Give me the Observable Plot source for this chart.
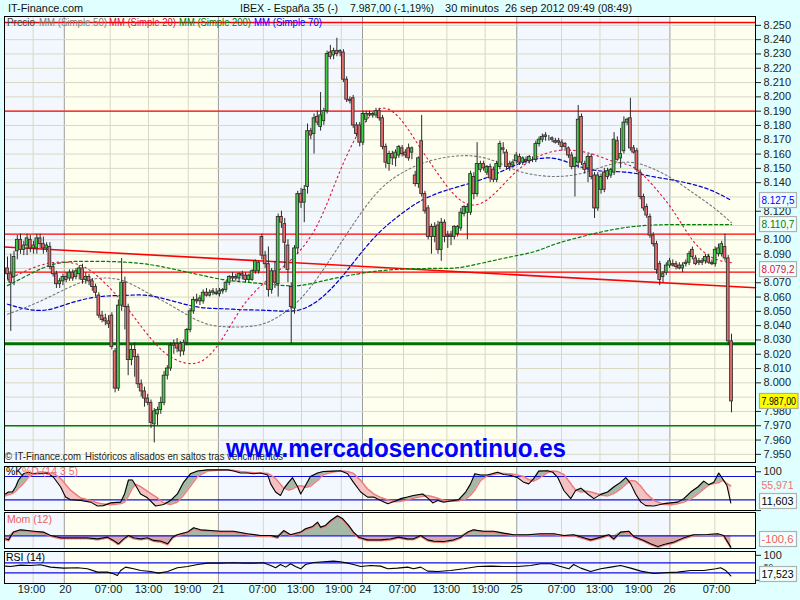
<!DOCTYPE html>
<html><head><meta charset="utf-8">
<script src="https://cdn.jsdelivr.net/npm/d3@7"></script>
<script src="https://cdn.jsdelivr.net/npm/@observablehq/plot@0.6"></script>
<style>
html,body{margin:0;padding:0;background:#E0FFFF;}
#wrap{position:relative;width:800px;height:600px;background:#E0FFFF;overflow:hidden;font-family:"Liberation Sans",Arial,sans-serif;}
#wrap svg.plot{position:absolute;left:0;}
#overlay{position:absolute;left:0;top:0;pointer-events:none;}
</style></head><body><div id="wrap"></div>
<script>
// ================= DATA =================
// 30-minute candles, IBEX 35, 19-26 Sep 2012: [open, high, low, close]
const ohlc = [
[8080,8088,8072,8076],[8076,8090,8036,8070],[8074,8092,8068,8088],[8092,8103,8086,8100],[8100,8104,8090,8093],
[8093,8099,8089,8096],[8096,8104,8089,8101],[8100,8103,8091,8094],[8094,8099,8090,8096],[8094,8104,8090,8101],
[8101,8104,8094,8097],[8097,8102,8090,8094],[8094,8098,8091,8096],[8095,8098,8079,8081],[8081,8084,8074,8076],
[8076,8078,8066,8069],[8069,8073,8066,8071],[8071,8076,8068,8074],[8074,8077,8070,8072],[8073,8079,8071,8077],
[8077,8079,8071,8073],[8074,8080,8072,8078],[8076,8082,8072,8080],[8080,8083,8069,8072],[8072,8077,8069,8074],
[8074,8076,8068,8071],[8071,8073,8064,8067],[8067,8069,8060,8063],[8061,8063,8045,8047],[8047,8050,8042,8044],
[8045,8048,8040,8043],[8043,8047,8038,8041],[8047,8049,8023,8025],[8022,8024,7993,7996],[7996,8058,7994,8054],
[8054,8087,8050,8070],[8070,8074,8037,8053],[8053,8055,8005,8016],[8016,8027,8012,8023],[8023,8028,8004,8018],
[8018,8020,7996,7999],[7999,8002,7990,7994],[7994,7997,7983,7989],[7989,7992,7984,7986],[7986,7988,7968,7972],
[7971,7982,7958,7980],[7978,7983,7970,7981],[7981,7990,7978,7986],[7986,8008,7984,8005],[8005,8012,8002,8010],
[8010,8028,8008,8026],[8026,8030,8020,8027],[8027,8031,8021,8024],[8027,8029,8018,8022],[8022,8030,8019,8028],
[8028,8038,8026,8037],[8037,8052,8035,8050],[8050,8060,8048,8058],[8058,8062,8055,8057],[8057,8061,8054,8059],
[8057,8065,8055,8063],[8063,8066,8060,8061],[8061,8065,8060,8063],[8063,8066,8061,8064],[8063,8066,8061,8062],
[8062,8066,8060,8064],[8064,8066,8062,8065],[8065,8071,8063,8070],[8070,8075,8068,8074],[8074,8077,8071,8073],
[8074,8076,8071,8073],[8073,8077,8070,8076],[8076,8078,8072,8075],[8075,8077,8070,8072],[8072,8076,8070,8075],
[8072,8079,8071,8078],[8078,8086,8076,8085],[8078,8085,8076,8084],[8102,8104,8086,8089],[8089,8092,8080,8083],
[8083,8095,8060,8065],[8065,8080,8062,8078],[8078,8085,8066,8070],[8069,8118,8060,8116],[8116,8120,8108,8112],
[8111,8115,8080,8098],[8096,8100,8070,8079],[8067,8070,8027,8053],[8052,8096,8048,8094],[8094,8134,8090,8132],
[8132,8136,8122,8126],[8126,8138,8112,8135],[8137,8181,8132,8176],[8176,8178,8170,8173],[8174,8188,8160,8185],
[8186,8190,8180,8182],[8179,8203,8176,8187],[8183,8192,8180,8190],[8190,8232,8188,8230],[8231,8236,8226,8228],
[8229,8234,8226,8232],[8232,8241,8228,8230],[8231,8233,8228,8232],[8231,8233,8210,8212],[8212,8214,8196,8198],
[8198,8200,8195,8197],[8199,8201,8178,8180],[8180,8182,8172,8174],[8180,8182,8165,8168],[8168,8190,8166,8188],
[8184,8190,8182,8188],[8188,8190,8186,8187],[8187,8189,8185,8188],[8187,8192,8185,8190],[8190,8192,8183,8185],
[8185,8187,8163,8165],[8165,8167,8150,8154],[8153,8162,8148,8160],[8160,8162,8152,8157],[8157,8163,8151,8161],
[8159,8166,8157,8165],[8164,8166,8158,8160],[8161,8163,8157,8159],[8164,8167,8155,8157],[8161,8165,8156,8164],
[8145,8148,8137,8139],[8139,8158,8136,8157],[8169,8187,8130,8132],[8132,8134,8118,8120],[8122,8124,8100,8102],
[8109,8111,8090,8102],[8102,8112,8098,8109],[8110,8113,8090,8093],[8093,8115,8085,8112],[8112,8114,8098,8102],
[8103,8106,8094,8102],[8102,8106,8096,8103],[8102,8110,8100,8109],[8104,8110,8102,8109],[8108,8122,8106,8119],
[8118,8124,8116,8123],[8119,8125,8100,8123],[8119,8148,8117,8146],[8144,8147,8128,8132],[8132,8168,8130,8153],
[8149,8155,8147,8153],[8153,8155,8148,8150],[8147,8152,8145,8151],[8151,8153,8140,8143],[8149,8151,8140,8142],
[8142,8155,8140,8153],[8151,8169,8149,8167],[8164,8168,8160,8163],[8161,8163,8149,8151],[8153,8155,8148,8151],
[8152,8156,8150,8154],[8155,8161,8153,8159],[8158,8160,8152,8154],[8154,8158,8152,8157],[8156,8158,8153,8155],
[8155,8159,8153,8158],[8156,8158,8154,8156],[8156,8169,8154,8167],[8167,8172,8165,8170],[8170,8174,8168,8172],
[8172,8175,8169,8173],[8171,8173,8169,8171],[8171,8172,8168,8170],[8169,8171,8167,8168],[8169,8171,8166,8168],
[8168,8170,8162,8165],[8167,8168,8163,8165],[8164,8165,8157,8159],[8159,8161,8149,8151],[8151,8158,8130,8157],
[8154,8194,8150,8184],[8186,8188,8152,8154],[8153,8155,8146,8149],[8150,8160,8140,8158],[8158,8160,8142,8144],
[8145,8147,8115,8122],[8122,8147,8120,8145],[8135,8146,8132,8144],[8147,8150,8133,8135],[8144,8150,8142,8148],
[8145,8150,8143,8149],[8147,8175,8145,8170],[8169,8172,8155,8156],[8157,8178,8150,8160],[8162,8186,8160,8182],
[8182,8185,8180,8184],[8185,8199,8162,8164],[8164,8166,8160,8161],[8162,8164,8147,8149],[8147,8149,8128,8130],
[8130,8132,8120,8122],[8123,8125,8115,8117],[8116,8118,8101,8103],[8103,8105,8095,8097],[8097,8099,8076,8079],
[8083,8085,8068,8072],[8074,8078,8070,8076],[8077,8084,8075,8082],[8082,8087,8080,8085],[8083,8086,8081,8082],
[8083,8085,8079,8081],[8082,8084,8079,8080],[8080,8084,8077,8082],[8083,8086,8081,8084],[8084,8092,8082,8090],
[8093,8095,8086,8088],[8087,8089,8082,8083],[8084,8087,8082,8085],[8085,8087,8082,8084],[8085,8090,8083,8088],
[8088,8090,8083,8084],[8084,8086,8082,8083],[8083,8095,8081,8093],[8090,8097,8088,8094],[8090,8099,8088,8097],
[8095,8104,8085,8087],[8087,8089,8026,8029],[8029,8034,7979,7987]
];

// Moving averages sampled every 6 candles (candle index positions)
const maIdx = [0,6,12,18,24,30,36,42,48,54,60,66,72,78,84,90,96,102,108,114,120,126,132,138,144,150,156,162,168,174,180,186,192,198,204,210,216,222];
const ma20  = [8072,8079,8084,8085,8082,8070,8055,8036,8020,8013,8013,8030,8055,8069,8080,8092,8112,8150,8178,8196,8188,8166,8146,8127,8122,8133,8149,8158,8163,8163,8160,8154,8153,8138,8122,8098,8086,8084];
const ma50  = [8048,8053,8059,8066,8072,8074,8072,8064,8057,8049,8041,8039,8039,8040,8047,8058,8076,8097,8118,8136,8146,8153,8157,8159,8159,8155,8148,8145,8144,8145,8149,8154,8155,8150,8143,8133,8124,8112];
const ma70  = [8055,8051,8050,8055,8059,8061,8061,8062,8059,8055,8052,8052,8051,8051,8050,8050,8058,8072,8090,8106,8117,8127,8133,8137,8141,8146,8153,8157,8158,8152,8148,8148,8147,8144,8142,8139,8135,8127.5];
const ma200 = [8068,8075,8082,8085,8085,8085,8084.5,8083.5,8081,8078,8075,8072,8070.5,8069.5,8068,8067.5,8071,8074,8076.5,8078.5,8079.5,8080,8080,8080,8083,8086,8089,8091.5,8097.5,8101,8104.5,8107.5,8109.5,8110.5,8110.7,8110.7,8110.7,8110.7];

// Horizontal drawn levels and trend line
const redLevels = [8252, 8190, 8104, 8077.5];
const greenThick = [8027.3];
const greenThin = [7970];
const trendX = [-0.92, 229.36];
const trendY = [8095, 8066.5];

// Last-value labels
const lastMA70 = 8127.5, lastMA200 = 8110.7, lastMA20 = 8079.2, lastPrice = 7987.00;

// Price axis
const priceGrid = [8250,8240,8230,8220,8210,8200,8190,8180,8170,8160,8150,8140,8130,8120,8110,8100,8090,8080,8070,8060,8050,8040,8030,8020,8010,8000,7990,7980,7970,7960,7950];
const priceTicks = [8250,8240,8230,8220,8210,8200,8190,8180,8170,8160,8150,8140,8120,8100,8090,8070,8060,8050,8040,8030,8020,8010,8000,7980,7970,7960,7950];

// Time axis (candle index positions): grid lines and label centres
const tickPos = [7.85,17.42,31.49,43.23,55.44,64.67,78.44,90.15,102.35,108.85,121.42,134.73,146.47,156.16,169.87,181.67,193.42,203.11,216.88];
const labelPos = [7.36,17.78,30.97,43.23,55.19,64.70,78.19,89.84,101.6,109.7,121.1,134.6,146.6,156.1,169.9,181.5,193.5,203.0,217.4];
const tickLabel = ["19:00","20","07:00","13:00","19:00","21","07:00","13:00","19:00","24","07:00","13:00","19:00","25","07:00","13:00","19:00","26","07:00"];

// Stochastic %K %D (14 3 5)
const stochIdx = [-0.6,0.3,1.5,2.5,3.4,4.9,6.4,8.0,10.1,12.3,14.1,16.3,17.8,19.3,22.4,25.5,27.6,29.4,31.6,34.7,35.9,37.1,38.3,39.3,40.8,42.9,45.4,47.9,50.0,52.1,54.0,56.1,58.3,61.3,64.4,67.5,69.3,71.5,73.6,75.5,77.6,79.8,80.7,82.2,83.7,84.7,86.2,87.4,89.0,89.9,91.4,92.9,95.1,96.9,100.0,102.1,104.3,106.1,108.3,110.4,112.3,114.4,116.6,119.0,120.6,122.7,124.5,127.3,128.8,130.4,131.9,133.7,135.9,138.3,140.5,142.0,143.3,145.1,147.2,150.3,152.1,154.3,156.4,158.3,159.8,161.3,162.9,165.6,167.2,168.7,170.6,172.7,174.2,175.8,177.9,179.8,181.9,184.0,185.9,188.0,189.6,191.1,192.6,194.2,195.7,198.2,201.2,203.4,205.5,207.4,209.5,211.7,213.5,215.0,216.6,218.1,219.3,220.6,221.8];
const stochK = [35,40,40,53,71,87,91,87,87,89,78,53,27,20,18,14,4,5,12,14,35,71,71,57,35,25,4,8,18,35,65,87,94,97,97,97,94,89,89,87,89,84,61,40,31,48,65,77,53,35,57,80,89,93,94,95,87,65,40,27,27,18,10,17,23,27,31,35,25,12,18,14,17,20,40,61,87,84,84,91,85,83,77,65,61,74,94,95,91,78,44,23,44,50,35,23,34,40,53,65,77,61,35,14,5,4,10,12,14,23,40,53,68,59,65,89,74,57,11.603];
const stochD = [30,33,36,42,50,62,78,86,92,90,88,75,60,45,25,18,12,9,7,10,14,30,50,60,54,42,28,12,8,14,32,55,80,94,96,97,96,93,91,90,89,88,84,75,60,50,45,48,55,56,52,55,70,85,92,94,93,88,70,48,35,26,20,15,16,20,24,29,31,28,24,19,16,17,22,32,45,70,82,87,88,87,84,80,72,68,75,90,94,93,85,62,45,40,42,38,32,30,36,48,60,70,68,55,38,18,8,7,10,14,22,35,48,58,62,64,70,62,55.971];
const stochLevels = [80, 20];

// Momentum (12)
const momIdx = [-0.6,0.3,1.8,4.0,6.1,8.0,11.0,13.2,16.3,20.2,24.5,27.6,30.7,32.5,34.0,35.6,37.1,38.7,40.8,42.9,44.8,46.9,49.1,50.6,52.1,55.2,57.1,59.2,62.3,65.3,69.3,73.6,77.6,80.7,82.8,84.7,86.8,89.9,91.4,93.6,95.1,96.0,97.5,99.1,101.2,102.8,104.6,106.1,107.7,110.4,114.4,117.5,119.9,122.7,124.5,126.7,128.8,130.7,133.7,136.8,139.0,141.1,142.9,146.0,149.1,152.1,155.2,159.5,163.5,167.5,170.6,173.6,176.7,178.8,181.9,184.4,185.9,188.0,190.5,192.0,195.1,197.2,199.4,201.2,204.3,207.4,210.4,214.7,217.8,219.6,221.8];
const momVal = [-27,-36,33,53,47,41,33,3,-18,-18,-18,-27,-12,-41,-71,-27,3,-18,-27,-18,-41,-47,-71,-12,9,33,71,53,47,41,41,18,3,3,-12,47,9,33,62,83,121,77,92,136,178,151,92,33,-12,-36,-36,-27,-12,-27,-27,3,-36,-47,-50,-36,-12,33,53,41,41,24,9,9,18,18,3,9,-18,-36,-12,9,-27,33,41,-6,-41,-71,-95,-77,-56,-18,9,12,18,3,-100.6];

// RSI (14)
const rsiIdx = [-0.6,0.9,4.0,7.1,10.1,13.2,17.2,21.5,24.5,27.6,30.7,32.5,33.7,34.7,36.2,38.7,40.8,43.9,46.3,49.1,52.1,55.2,58.3,61.3,65.3,69.3,72.4,75.5,78.5,80.7,82.2,83.7,85.3,86.8,88.3,89.9,91.4,93.9,96.9,100.0,102.1,104.3,106.1,108.3,111.3,114.4,116.6,119.6,122.7,124.5,126.7,128.8,131.9,135.9,139.9,144.2,148.2,152.1,156.4,160.4,163.5,166.6,169.6,172.1,173.6,175.8,178.8,181.9,185.0,188.0,191.1,194.2,198.2,202.5,205.5,209.5,213.5,217.2,218.7,220.2,221.8];
const rsiVal = [56.7,55.3,60.7,59.3,62,52.7,48.7,50,46,32.7,32.7,26,19.3,39.3,52.7,46,39.3,35.3,28.7,35.3,50,55.3,63.3,68.7,68.7,70,68.7,68.7,70,59.3,50,63.3,52.7,66,55.3,46,63.3,71.3,74,76.7,74,68.7,63.3,55.3,59.3,56.7,46,48.7,52.7,46,52.7,36.7,35.3,39.3,46,55.3,56.7,55.3,55.3,59.3,66,66,55.3,46,63.3,48.7,35.3,46,52.7,59.3,48.7,36.7,27.3,31.3,32.7,39.3,39.3,46,50,39.3,17.523];
const rsiLevels = [70, 30];

// ================= CHART =================
const X0 = -0.92, X1 = 229.36;
const W = 800, ML = 4, MR = 45;
const BG_A = "#F3F8FF", BG_B = "#FFFFF0";
const GRID = "#D8D8C4", DAYGRID = "#9C9C9C";
const FONT = "'Liberation Sans', Arial, sans-serif";
const fmtPrice = v => d3.format(",")(v).replace(/,/g, ".");

const ticks = tickPos.map((p, j) => ({p, lp: labelPos[j], label: tickLabel[j], day: tickLabel[j].length <= 2}));
const dayEdges = [X0, ...ticks.filter(t => t.day).map(t => t.p), X1];
const bands = d3.pairs(dayEdges).map(([a, b], j) => ({x1: a, x2: b, fill: j % 2 === 0 ? BG_A : BG_B}));

const candles = ohlc.map((d, i) => ({i, o: d[0], h: d[1], l: d[2], c: d[3]}));
const maSeries = arr => maIdx.map((x, j) => ({x, y: arr[j]}));
const trend = trendX.map((x, j) => ({x, y: trendY[j]}));
const st = stochIdx.map((x, j) => ({x, k: stochK[j], d: stochD[j]}));
const mom = momIdx.map((x, j) => ({x, v: momVal[j]}));
const rsi = rsiIdx.map((x, j) => ({x, v: rsiVal[j]}));

function base() {
  return [
    Plot.rect(bands, {x1: "x1", x2: "x2", fill: "fill"}),
    Plot.ruleX(ticks, {x: "p", stroke: d => d.day ? DAYGRID : GRID, strokeWidth: 1})
  ];
}
const common = {
  width: W, marginLeft: ML, marginRight: MR,
  x: {domain: [X0, X1], axis: null},
  color: {type: "identity"},
  style: {background: "transparent", fontFamily: FONT, fontSize: "11px", color: "#222", overflow: "visible"}
};

const main = Plot.plot({
  ...common, height: 470, marginTop: 16, marginBottom: 8,
  y: {domain: [7944.3, 8256.2], axis: null, label: null},
  marks: [
    ...base(),
    Plot.ruleY(priceGrid, {stroke: GRID}),
    Plot.ruleY(redLevels, {stroke: "#FF0000", strokeWidth: 1.3}),
    Plot.line(trend, {x: "x", y: "y", stroke: "#FF0000", strokeWidth: 1.6}),
    Plot.ruleY(greenThick, {stroke: "#007000", strokeWidth: 3}),
    Plot.ruleY(greenThin, {stroke: "#008000", strokeWidth: 1.5}),
    Plot.line(maSeries(ma50), {x: "x", y: "y", stroke: "#777", strokeWidth: 1.1, strokeDasharray: "2,2.5", curve: "basis"}),
    Plot.line(maSeries(ma200), {x: "x", y: "y", stroke: "#008000", strokeWidth: 1.2, strokeDasharray: "3,2.5", curve: "basis"}),
    Plot.line(maSeries(ma70), {x: "x", y: "y", stroke: "#0000CC", strokeWidth: 1.2, strokeDasharray: "3.5,2.5", curve: "basis"}),
    Plot.line(maSeries(ma20), {x: "x", y: "y", stroke: "#E0103C", strokeWidth: 1.1, strokeDasharray: "1.6,3.2", curve: "basis"}),
    Plot.ruleX(candles, {x: "i", y1: "l", y2: "h", stroke: "#2A2A2A", strokeWidth: 1}),
    Plot.rect(candles, {
      x1: d => d.i - 0.42, x2: d => d.i + 0.42,
      y1: d => Math.min(d.o, d.c), y2: d => Math.max(d.o, d.c),
      fill: d => d.c >= d.o ? "#44D044" : "#E86C6C", stroke: "#303030", strokeWidth: 0.9, inset: 0
    }),
    Plot.axisY({anchor: "right", label: null, ticks: priceTicks, tickFormat: fmtPrice, tickSize: 5, tickPadding: 3, fontSize: 11}),
    Plot.frame({stroke: "#000"})
  ]
});

const stoch = Plot.plot({
  ...common, height: 55, marginTop: 6, marginBottom: 5,
  y: {domain: [-7.6, 105.8], axis: null, label: null},
  marks: [
    ...base(),
    Plot.areaY(st, {x: "x", y1: "d", y2: d => Math.max(d.k, d.d), fill: "#A6B9A6"}),
    Plot.areaY(st, {x: "x", y1: "k", y2: d => Math.max(d.k, d.d), fill: "#F3C3C3"}),
    Plot.ruleY(stochLevels, {stroke: "#1010E0", strokeWidth: 1.2}),
    Plot.line(st, {x: "x", y: "d", stroke: "#F07878", strokeWidth: 1.5, strokeDasharray: "2,1.2"}),
    Plot.line(st, {x: "x", y: "k", stroke: "#000", strokeWidth: 1.1}),
    Plot.axisY({anchor: "right", label: null, ticks: [0, 100], tickFormat: d => d === 100 ? "100" : "", tickSize: 5, tickPadding: 3, fontSize: 11, dy: 3}),
    Plot.frame({stroke: "#000"})
  ]
});

const momPlot = Plot.plot({
  ...common, height: 50, marginTop: 7, marginBottom: 7,
  y: {domain: [-112.8, 207], axis: null, label: null},
  marks: [
    ...base(),
    Plot.areaY(mom, {x: "x", y1: 0, y2: d => Math.max(d.v, 0), fill: "#A6B9A6"}),
    Plot.areaY(mom, {x: "x", y1: 0, y2: d => Math.min(d.v, 0), fill: "#D9A5A5"}),
    Plot.ruleY([0], {stroke: "#1010E0", strokeWidth: 1.2}),
    Plot.line(mom, {x: "x", y: "v", stroke: "#F07878", strokeWidth: 1.5, strokeDasharray: "2,1.2", dy: 1}),
    Plot.line(mom, {x: "x", y: "v", stroke: "#000", strokeWidth: 1.1}),
    Plot.frame({stroke: "#000"})
  ]
});

const rsiPlot = Plot.plot({
  ...common, height: 55, marginTop: 6, marginBottom: 17,
  y: {domain: [-12.8, 115.2], axis: null, label: null},
  marks: [
    ...base(),
    Plot.ruleY(rsiLevels, {stroke: "#1010E0", strokeWidth: 1.2}),
    Plot.line(rsi, {x: "x", y: "v", stroke: "#000", strokeWidth: 1.1}),
    Plot.axisY({anchor: "right", label: null, ticks: [0, 100], tickFormat: d => d === 0 ? "" : String(d), tickSize: 5, tickPadding: 3, fontSize: 11, dy: 0}),
    Plot.text(ticks, {x: "lp", text: "label", frameAnchor: "bottom", dy: 9, fontSize: 11, fill: "#222"}),
    Plot.frame({stroke: "#000"})
  ]
});

const wrap = document.getElementById("wrap");
[[main, 0], [stoch, 460], [momPlot, 505], [rsiPlot, 545]].forEach(([p, top]) => {
  p.classList.add("plot");
  p.style.top = top + "px";
  wrap.appendChild(p);
});

// small "50" level label of the RSI panel, half hidden by the value box as in the reference
const rsiY = rsiPlot.scale("y");
d3.select(rsiPlot).append("text").attr("x", 764).attr("y", rsiY.apply(50) + 1.5).attr("text-anchor", "start")
  .attr("font-size", 8).attr("font-family", FONT).attr("fill", "#222").text("50");

function valueBox(plot, value, label, color, bg, border, boxed, len) {
  const ys = plot.scale("y");
  const bottom = Math.max(...ys.range), top = Math.min(...ys.range);
  let y = ys.apply(value);
  if (boxed) y = Math.max(top + 9, Math.min(bottom - 9, y));
  const g = d3.select(plot).append("g");
  if (boxed) {
    const wBox = label.length > 7 ? 38.5 : 37;
    g.append("rect").attr("x", 759.5).attr("y", y - 7.5).attr("width", wBox).attr("height", 15)
      .attr("fill", bg).attr("stroke", border).attr("stroke-width", 1.2);
  }
  const t = g.append("text").attr("x", 761.5).attr("y", y).attr("dy", "0.36em").attr("text-anchor", "start")
    .attr("fill", color).attr("font-size", 11).attr("font-family", FONT).text(label);
  if (len) t.attr("textLength", len).attr("lengthAdjust", "spacingAndGlyphs");
}
valueBox(main, lastMA70, "8.127,5", "#0000FF", "#F2FFFF", "#B0B0B0", true, 33);
valueBox(main, lastMA200, "8.110,7", "#008000", "#F2FFFF", "#B0B0B0", true, 33);
valueBox(main, lastMA20, "8.079,2", "#E0103C", "#F2FFFF", "#B0B0B0", true, 33);
valueBox(main, lastPrice, "7.987,00", "#000", "#FFFF00", "#B0B090", true, 34.5);
valueBox(stoch, stochD[stochD.length - 1], "55,971", "#F07070", "none", "none", false, 32);
valueBox(stoch, stochK[stochK.length - 1], "11,603", "#000", "#F2FFFF", "#B0B0B0", true, 32);
valueBox(momPlot, momVal[momVal.length - 1], "-100,6", "#F06060", "#F2FFFF", "#B0B0B0", true, 32);
valueBox(rsiPlot, rsiVal[rsiVal.length - 1], "17,523", "#000", "#F2FFFF", "#B0B0B0", true, 32);

// ================= TEXT OVERLAY =================
const ov = d3.select(wrap).append("svg").attr("id", "overlay").attr("width", 800).attr("height", 600)
  .style("font-family", FONT);
function txt(x, y, s, opt = {}) {
  const t = ov.append("text").attr("x", x).attr("y", y).text(s)
    .attr("font-size", opt.size || 11).attr("fill", opt.fill || "#111");
  if (opt.weight) t.attr("font-weight", opt.weight);
  if (opt.len) t.attr("textLength", opt.len).attr("lengthAdjust", "spacingAndGlyphs");
  return t;
}
txt(8, 12, "IT-Finance.com", {size: 11.5, len: 75});
txt(240, 12, "IBEX - España 35 (-)", {size: 11.5, len: 98});
txt(350, 12, "7.987,00 (-1,19%)", {size: 11.5, len: 84});
txt(445, 12, "30 minutos", {size: 11.5, len: 54});
txt(505, 12, "26 sep 2012 09:49 (08:49)", {size: 11.5, len: 127});
txt(7, 26, "Precio", {size: 10.5, fill: "#404040", len: 28});
txt(39, 26, "MM (Simple 50)", {size: 10.5, fill: "#808080", len: 68});
txt(109, 26, "MM (Simple 20)", {size: 10.5, fill: "#E0103C", len: 67});
txt(179, 26, "MM (Simple 200)", {size: 10.5, fill: "#008000", len: 72});
txt(254, 26, "MM (Simple 70)", {size: 10.5, fill: "#0000FF", len: 68});
txt(5, 460, "© IT-Finance.com", {size: 10.5, fill: "#222", len: 76});
txt(85, 460, "Históricos alisados en saltos tras vencimientos", {size: 10.5, fill: "#222", len: 198});
txt(226, 457, "www.mercadosencontinuo.es", {size: 26, fill: "#0000FF", weight: "bold", len: 340});
txt(6, 475, "%K", {size: 10.5, fill: "#000"});
txt(22, 475, "%D (14 3 5)", {size: 10.5, fill: "#F07070"});
txt(7, 523, "Mom (12)", {size: 10.5, fill: "#E86060"});
txt(6, 561, "RSI (14)", {size: 10.5, fill: "#000"});
</script></body></html>
